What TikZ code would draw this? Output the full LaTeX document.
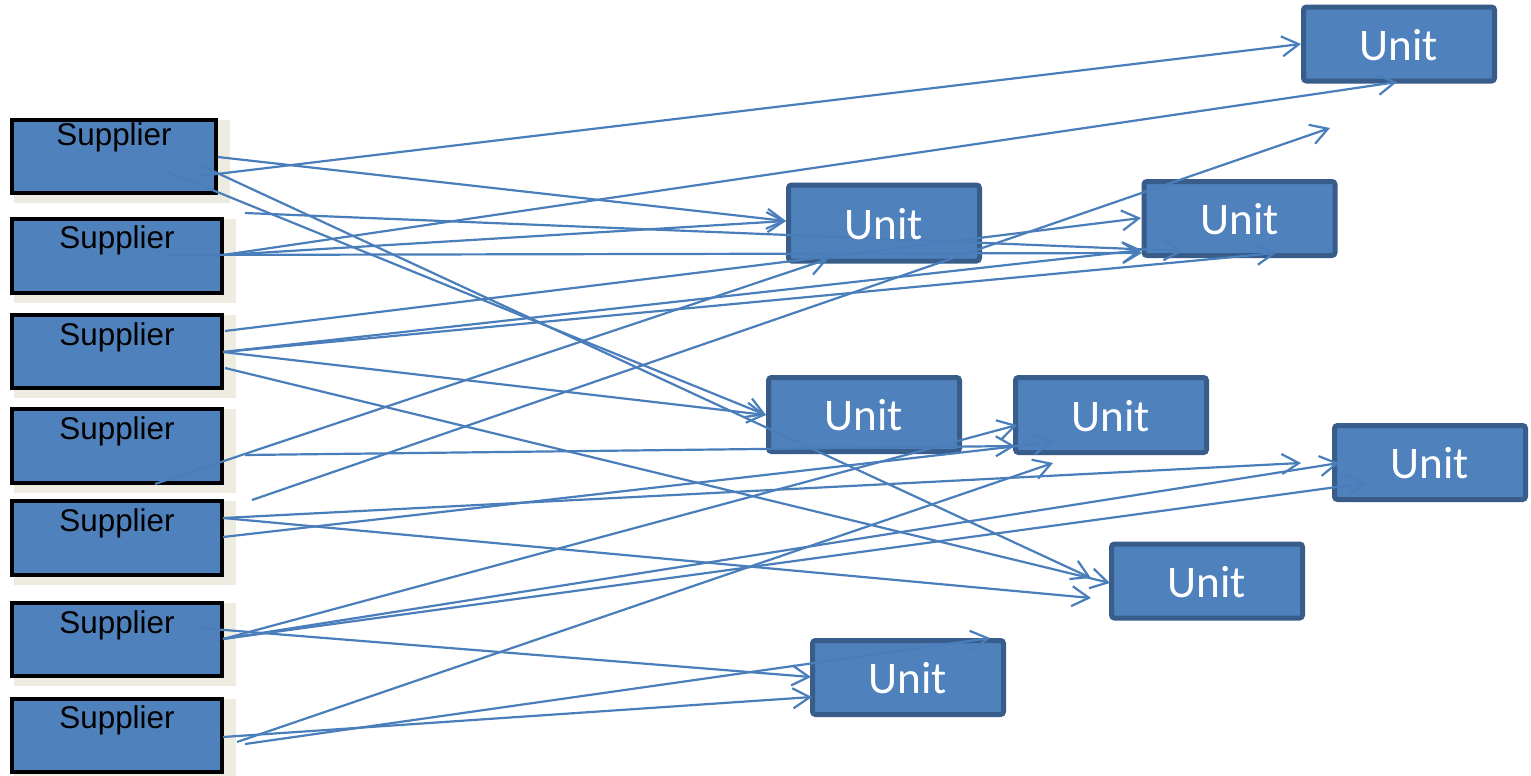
\documentclass[tikz,border=0pt]{standalone}
\usepackage{fontspec}
\newfontfamily\supfont{Liberation Sans}
\newfontfamily\unitfont{Carlito}
\usetikzlibrary{arrows.meta,calc,backgrounds}
\definecolor{boxfill}{HTML}{4F81BD}
\definecolor{unitedge}{HTML}{385D8A}
\definecolor{shadowc}{HTML}{EEECE1}
\definecolor{linec}{HTML}{4A7EBB}
\begin{document}
\begin{tikzpicture}[x=0.5pt,y=-0.5pt,
  supbox/.style={draw=black, line width=2pt, fill=boxfill, minimum width=105pt, minimum height=37pt, inner sep=0pt},
  unitbox/.style={draw=unitedge, line width=2.5pt, fill=boxfill, rounded corners=1.5pt, minimum width=95.5pt, minimum height=37pt, inner sep=0pt},
  suptext/.style={font=\supfont\fontsize{15.7}{18}\selectfont, text=black, anchor=base, inner sep=0pt},
  unittext/.style={font=\unitfont\fontsize{22.6}{26}\selectfont, text=white, inner sep=0pt},
  conn/.style={draw=linec, line width=1.1pt, -{Straight Barb[length=8.5pt,width=10pt]}},
  shadowbox/.style={fill=shadowc, draw=none}
]
\useasboundingbox (0,0) rectangle (1531,776);

% supplier boxes
\node[supbox, minimum width=102pt, minimum height=36.5pt] (s1) at (114,156.5) {};
\node[supbox] (s2) at (117,256) {};
\node[supbox, minimum height=36.5pt] (s3) at (117,351.5) {};
\node[supbox] (s4) at (117,446) {};
\node[supbox] (s5) at (117,538) {};
\node[supbox, minimum height=36.5pt] (s6) at (117,639.5) {};
\node[supbox, minimum height=36.5pt] (s7) at (117,735.5) {};

\begin{pgfonlayer}{background}
  \fill[white] (0,0) rectangle (1531,776);
  \foreach \s in {s1,s2,s3,s4,s5,s6,s7}{
    \fill[shadowbox] ($(\s.south west)+(4,8)$) rectangle ($(\s.north east)+(12,2)$);
  }
\end{pgfonlayer}

% unit boxes
\node[unitbox] (u1) at (1399,44) {};
\node[unitbox, minimum height=38pt] (u2) at (884,223) {};
\node[unitbox] (u3) at (1239.5,218.5) {};
\node[unitbox] (u4) at (864,414.5) {};
\node[unitbox, minimum height=37.5pt] (u5) at (1111,415) {};
\node[unitbox] (u6) at (1430,462.5) {};
\node[unitbox] (u7) at (1207,581) {};
\node[unitbox] (u8) at (908,677.5) {};

% connector end points
\coordinate (s1r) at (218,157);
\coordinate (s1m) at (200,176);
\coordinate (s1i) at (168,172);
\coordinate (s1j) at (200,165);
\coordinate (s2up) at (245,213);
\coordinate (s2r) at (223,255);
\coordinate (s2i) at (168,255);
\coordinate (s3u) at (225,331);
\coordinate (s3m) at (223,352);
\coordinate (s3l) at (225,368);
\coordinate (s4b) at (155,484);
\coordinate (s4r) at (245,455);
\coordinate (s4x) at (252,500);
\coordinate (s5u) at (223,518);
\coordinate (s5l) at (223,537);
\coordinate (s6i) at (200,628);
\coordinate (s6r) at (223,639);
\coordinate (s7r) at (223,737);
\coordinate (s7a) at (245,744);
\coordinate (s7b) at (237,742);

\coordinate (u1w) at (1301,44);
\coordinate (u1s) at (1397,82);
\coordinate (u2w) at (786,221);
\coordinate (u2s) at (828,259);
\coordinate (u3a) at (1141,218);
\coordinate (u3b) at (1142,250);
\coordinate (u3c) at (1142,253);
\coordinate (u3d) at (1183,251);
\coordinate (u3e) at (1276,253);
\coordinate (free) at (1330,128);
\coordinate (u4w) at (766,415);
\coordinate (u5a) at (1017,425);
\coordinate (u5b) at (1015,446);
\coordinate (u5c) at (1053,442);
\coordinate (u5d) at (1053,463);
\coordinate (u6a) at (1301,463);
\coordinate (u6b) at (1339,463);
\coordinate (u6c) at (1366,483);
\coordinate (u7a) at (1091,578);
\coordinate (u7b) at (1110,583);
\coordinate (u7c) at (1091,598);
\coordinate (u8a) at (811,677);
\coordinate (u8b) at (812,697);
\coordinate (u8c) at (990,638);

% connectors
\draw[conn] (s1r) -- (u2w);
\draw[conn] (s1m) -- (u1w);
\draw[conn] (s1i) -- (u4w);
\draw[conn] (s1j) -- (u7a);
\draw[conn] (s2up) -- (u3d);
\draw[conn] (s2r) -- (u1s);
\draw[conn] (s2r) -- (u2w);
\draw[conn] (s2i) -- (u3c);
\draw[conn] (s3u) -- (u3a);
\draw[conn] (s3m) -- (u3b);
\draw[conn] (s3m) -- (u3e);
\draw[conn] (s3m) -- (u4w);
\draw[conn] (s3l) -- (u7b);
\draw[conn] (s4b) -- (u2s);
\draw[conn] (s4r) -- (u5b);
\draw[conn] (s4x) -- (free);
\draw[conn] (s5u) -- (u6a);
\draw[conn] (s5u) -- (u7c);
\draw[conn] (s5l) -- (u5c);
\draw[conn] (s6i) -- (u8a);
\draw[conn] (s6r) -- (u5a);
\draw[conn] (s6r) -- (u6b);
\draw[conn] (s6r) -- (u6c);
\draw[conn] (s7r) -- (u8b);
\draw[conn] (s7a) -- (u8c);
\draw[conn] (s7b) -- (u5d);

% texts
\node[suptext] (s1t) at (114,145) {Supplier};
\node[suptext] (s2t) at (117,248) {Supplier};
\node[suptext] (s3t) at (117,345) {Supplier};
\node[suptext] (s4t) at (117,439) {Supplier};
\node[suptext] (s5t) at (117,531) {Supplier};
\node[suptext] (s6t) at (117,633) {Supplier};
\node[suptext] (s7t) at (117,728) {Supplier};
\foreach \u in {u1,u2,u3,u4,u5,u6,u7,u8}{
  \node[unittext] (\u t) at ($(\u.center)+(0,1)$) {Unit};
}
\end{tikzpicture}
\end{document}
